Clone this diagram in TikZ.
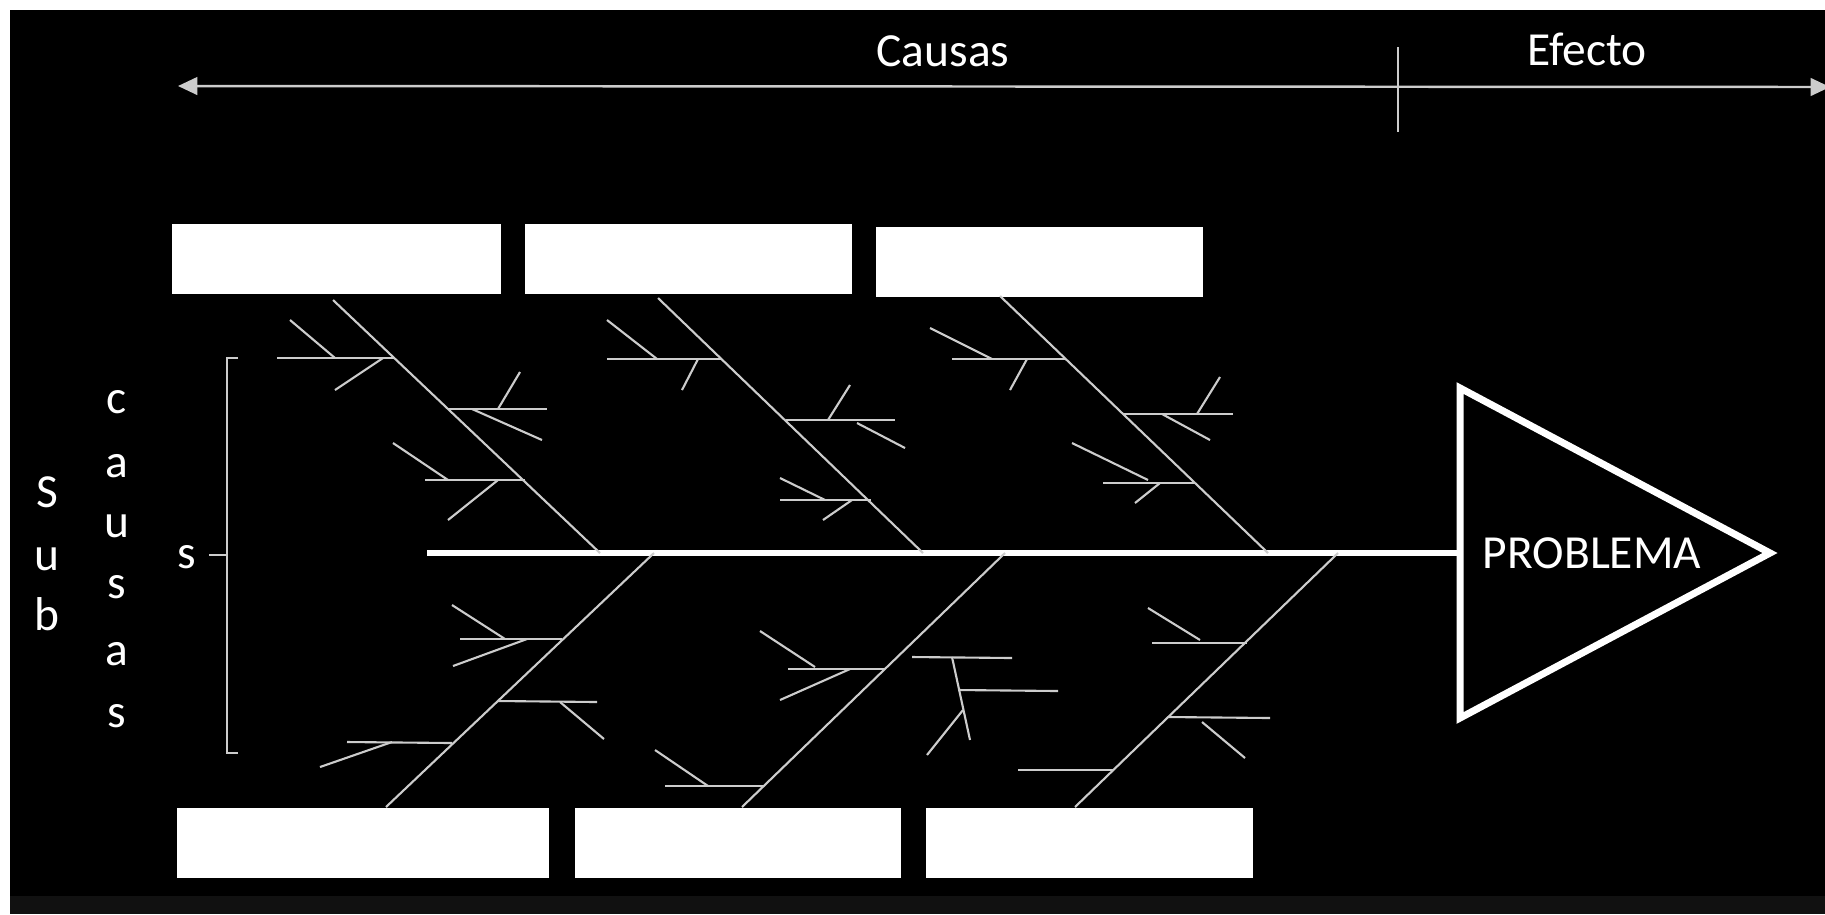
\documentclass[tikz,border=0pt]{standalone}
\usepackage{fontspec}
\setmainfont{Carlito}
\usetikzlibrary{arrows.meta,positioning}
\definecolor{fbgray}{HTML}{CCCCCC}
\definecolor{fbband}{HTML}{111111}

\begin{document}
\begin{tikzpicture}[
          x=0.01cm, y=-0.01cm,
          box/.style={fill=white, inner sep=0pt, anchor=north west,
                      minimum height=0.7cm},
          lbl/.style={text=white, anchor=base, font=\fontsize{13.5}{16}\selectfont},
          side/.style={text=white, anchor=base, font=\fontsize{13.5}{16}\selectfont},
          bone/.style={draw=fbgray, line width=0.6pt},
          axis/.style={draw=fbgray, line width=0.7pt},
          spine/.style={draw=white, line width=1.8pt}
        ]
        \useasboundingbox (0,0) rectangle (1825,914);
        \fill[white] (0,0) rectangle (1825,914);
        \fill[black] (10,10) rectangle (1825,896);
        \fill[fbband] (10,896) rectangle (1825,914);

        % causas / efecto axis
        \coordinate (aleft) at (178,86);
        \coordinate (aright) at (1830,87);
        \draw[axis, {Triangle[length=5.5pt, width=5pt]}-{Triangle[length=5.5pt, width=5pt]}] (aleft) -- (aright);
        \draw[axis] (1398,47) -- (1398,132);
        \node[lbl] (causas) at (943,66) {Causas};
        \node[lbl] (efecto) at (1587,65) {Efecto};

        % category boxes
        \node[box, minimum width=3.29cm] (c1) at (171,223) {};
        \node[box, minimum width=3.27cm] (c2) at (524,223) {};
        \node[box, minimum width=3.27cm] (c3) at (875,226) {};
        \node[box, minimum width=3.72cm] (c4) at (176,807) {};
        \node[box, minimum width=3.26cm] (c5) at (574,807) {};
        \node[box, minimum width=3.27cm] (c6) at (925,807) {};

        % head
        \coordinate (ht) at (1460,388);
        \coordinate (hb) at (1460,718);
        \coordinate (hp) at (1770,553);
        \draw[white, line width=2pt] (ht) -- (hp) -- (hb) -- cycle;
        \node[lbl, anchor=center] (prob) at (1592,553) {PROBLEMA};
        \coordinate (tail) at (427,553);
        \draw[spine] (tail) -- (tail -| ht);

        % main bones
        \draw[bone] (333,300) -- (600,553);
        \draw[bone] (658,298) -- (923,553);
        \draw[bone] (1000,296) -- (1268,553);
        \draw[bone] (386,807) -- (654,553);
        \draw[bone] (742,807) -- (1005,553);
        \draw[bone] (1075,807) -- (1338,553);

        % ribs and sub-ribs
        \foreach \xa/\ya/\xb/\yb in {
            277/358/394/358, 290/320/335/358, 383/358/335/390,
            449/409/547/409, 498/409/520/372, 472/409/542/440,
            425/480/525/480, 393/443/448/480, 498/480/448/520,
            460/639/562/639, 452/605/505/639, 527/639/453/666,
            498/701/597/702, 560/702/604/739,
            347/742/452/743, 392/742/320/767,
            607/359/722/359, 607/320/657/359, 698/359/682/390,
            786/420/895/420, 828/420/850/385, 857/423/905/448,
            780/500/871/500, 780/478/825/500, 852/500/823/520,
            788/669/885/669, 760/631/815/667, 850/669/780/700,
            665/786/763/786, 655/750/708/786,
            912/657/1012/658, 958/690/1058/691, 952/657/970/740, 963/710/927/755,
            952/359/1066/359, 930/328/992/359, 1027/359/1010/390,
            1124/414/1233/414, 1197/414/1220/377, 1162/414/1210/440,
            1103/483/1195/483, 1072/443/1148/480, 1160/483/1135/503,
            1152/643/1247/643, 1148/608/1200/640,
            1168/717/1270/718, 1202/722/1245/758,
            1018/770/1113/770}
          \draw[bone] (\xa,\ya) -- (\xb,\yb);

        % sub causas
        \draw[bone, line width=0.5pt] (238,358) -- (227,358) -- (227,753) -- (238,753);
        \draw[bone, line width=0.5pt] (227,555) -- (209,555);
        \node[side] (sb) at (187,568) {s};
        \foreach \ch/\y [count=\i] in {S/507, u/570, b/630}
          \node[side] (sub\i) at (47,\y) {\ch};
        \foreach \ch/\y [count=\i] in {c/413, a/477, u/537, s/598, a/665, s/727}
          \node[side] (cau\i) at (117,\y) {\ch};
      \end{tikzpicture}
\end{document}
